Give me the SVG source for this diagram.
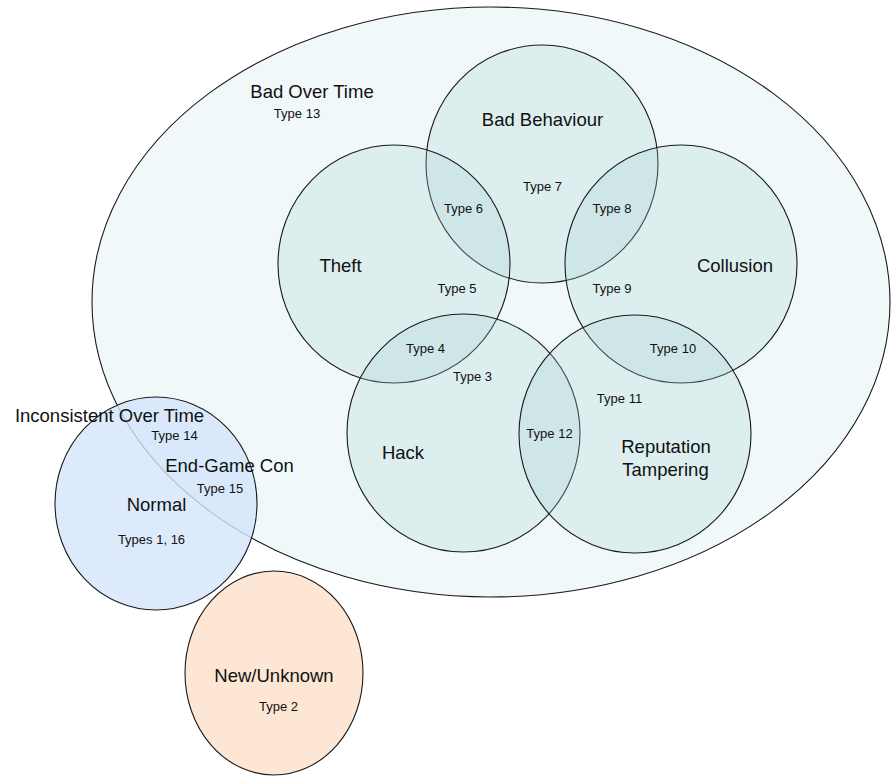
<svg xmlns="http://www.w3.org/2000/svg" width="891" height="776" viewBox="0 0 891 776">
  <style>
    .outline { stroke: #1a1a1a; stroke-width: 1.1; }
    .outer { fill: #f1f8f9; }
    .ring { fill: #a5d2d7; fill-opacity: 0.27; }
    .normal { fill: #d3e5fb; fill-opacity: 0.8; }
    .newbie { fill: #fde6d3; }
    text { font-family: "Liberation Sans", Arial, sans-serif; fill: #111; text-anchor: middle; }
    .big { font-size: 18.5px; }
    .small { font-size: 13px; }
  </style>

  <!-- Outer set: bad over time -->
  <g id="bad-over-time">
    <ellipse class="outer outline" cx="491" cy="302" rx="399" ry="295"/>
    <text class="big" x="312" y="98">Bad Over Time</text>
    <text class="small" x="297" y="118">Type 13</text>
  </g>

  <!-- Five overlapping behaviour sets -->
  <g id="bad-behaviour">
    <ellipse class="ring outline" cx="542" cy="164" rx="116" ry="119"/>
    <text class="big" x="542.5" y="126">Bad Behaviour</text>
  </g>
  <g id="theft">
    <ellipse class="ring outline" cx="394" cy="264" rx="116" ry="119"/>
    <text class="big" x="340.5" y="272">Theft</text>
  </g>
  <g id="collusion">
    <ellipse class="ring outline" cx="681" cy="264" rx="116" ry="119"/>
    <text class="big" x="735" y="272">Collusion</text>
  </g>
  <g id="hack">
    <ellipse class="ring outline" cx="463.5" cy="433" rx="116.5" ry="119"/>
    <text class="big" x="403" y="459">Hack</text>
  </g>
  <g id="reputation-tampering">
    <ellipse class="ring outline" cx="635" cy="434" rx="116" ry="119"/>
    <text class="big" x="666" y="453">Reputation</text>
    <text class="big" x="665.5" y="476">Tampering</text>
  </g>

  <!-- Region labels -->
  <g id="region-labels">
    <text class="small" x="542.5" y="191">Type 7</text>
    <text class="small" x="463.5" y="213">Type 6</text>
    <text class="small" x="612" y="213">Type 8</text>
    <text class="small" x="457" y="293">Type 5</text>
    <text class="small" x="612" y="293">Type 9</text>
    <text class="small" x="673" y="353">Type 10</text>
    <text class="small" x="425.5" y="353">Type 4</text>
    <text class="small" x="472.5" y="381">Type 3</text>
    <text class="small" x="619.5" y="403">Type 11</text>
    <text class="small" x="549.5" y="438">Type 12</text>
  </g>

  <!-- Normal / inconsistent set -->
  <g id="normal">
    <ellipse class="normal outline" cx="156" cy="503.5" rx="101" ry="106.5"/>
    <text class="big" x="109.5" y="422">Inconsistent Over Time</text>
    <text class="small" x="174.5" y="440">Type 14</text>
    <text class="big" x="229.5" y="472">End-Game Con</text>
    <text class="small" x="220" y="493">Type 15</text>
    <text class="big" x="156.5" y="511">Normal</text>
    <text class="small" x="151.5" y="544">Types 1, 16</text>
  </g>

  <!-- New / unknown set -->
  <g id="new-unknown">
    <ellipse class="newbie outline" cx="274" cy="673" rx="89" ry="102"/>
    <text class="big" x="274" y="682">New/Unknown</text>
    <text class="small" x="278.5" y="711">Type 2</text>
  </g>
</svg>
